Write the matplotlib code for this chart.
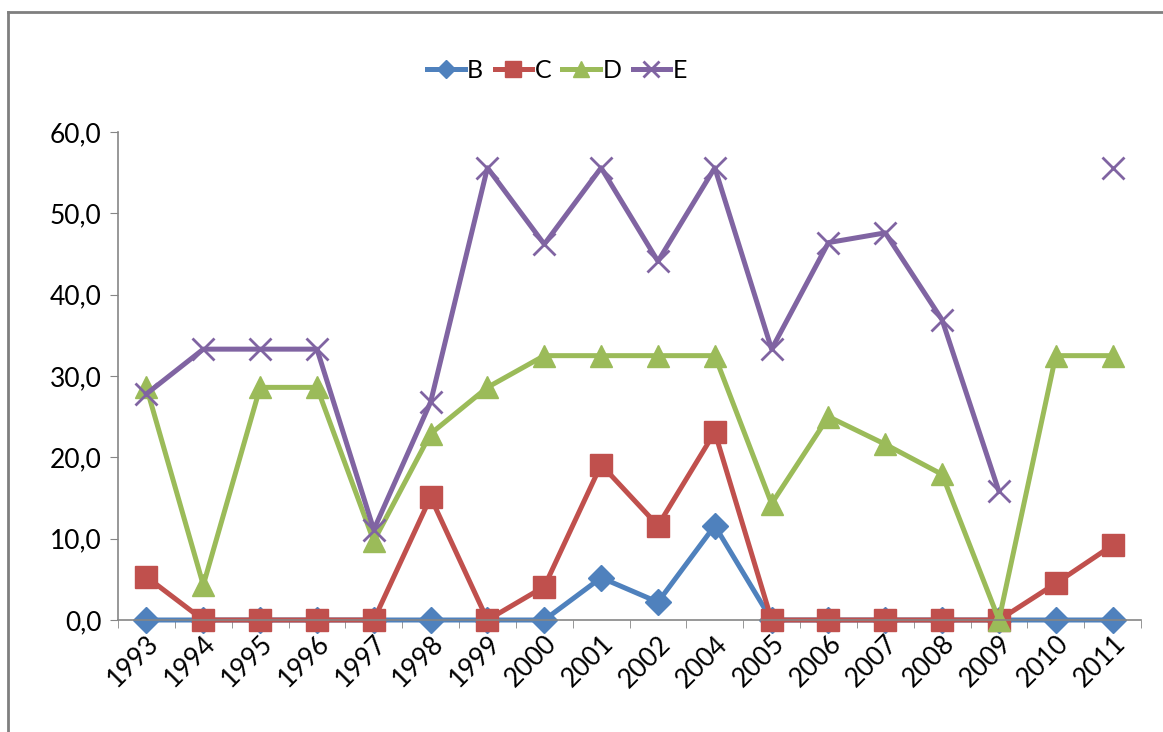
import numpy as np
import matplotlib
matplotlib.use("Agg")
import matplotlib.pyplot as plt
from matplotlib.lines import Line2D

plt.rcParams['font.family'] = ['Lato', 'DejaVu Sans']

# Dados (ano 2003 ausente no original)
anos = ["1993", "1994", "1995", "1996", "1997", "1998", "1999", "2000", "2001",
        "2002", "2004", "2005", "2006", "2007", "2008", "2009", "2010", "2011"]
serie_b = [0, 0, 0, 0, 0, 0, 0, 0, 5.2, 2.2, 11.6, 0, 0, 0, 0, 0, 0, 0]
serie_c = [5.3, 0, 0, 0, 0, 15.1, 0, 4.1, 19.1, 11.6, 23.1, 0, 0, 0, 0, 0, 4.5, 9.2]
serie_d = [28.6, 4.3, 28.6, 28.6, 9.7, 22.9, 28.6, 32.5, 32.5, 32.5, 32.5, 14.3,
           25.0, 21.6, 17.9, 0, 32.5, 32.5]
serie_e = [27.8, 33.3, 33.3, 33.3, 11.1, 26.8, 55.6, 46.2, 55.6, 44.1, 55.6, 33.3,
           46.4, 47.6, 36.9, 15.8, np.nan, 55.6]

series = [
    ("B", serie_b, "#4F81BD", "D", 13, None),
    ("C", serie_c, "#C0504D", "s", 16, None),
    ("D", serie_d, "#9BBB59", "^", 16, None),
    ("E", serie_e, "#8064A2", "x", 16, 2.0),
]

fig = plt.figure(figsize=(11.63, 7.32), dpi=100)
ax = fig.add_axes([0.1015, 0.153, 0.8796, 0.6667])

x = np.arange(len(anos))
handles = []
for nome, valores, cor, marcador, tam, mew in series:
    kw = dict(color=cor, linewidth=3.6, marker=marcador, markersize=tam,
              markerfacecolor=cor, markeredgecolor=cor)
    if mew:
        kw["markeredgewidth"] = mew
    ax.plot(x, valores, clip_on=False, **kw)
    handles.append(Line2D([], [], label=nome, **kw))

ax.set_xlim(-0.5, len(anos) - 0.5)
ax.set_ylim(0, 60)
ax.set_yticks(np.arange(0, 61, 10))
ax.set_yticklabels([f"{v:.1f}".replace(".", ",") for v in np.arange(0, 61, 10)],
                   fontsize=19)
ax.set_xticks(x)
ax.set_xticklabels(anos, rotation=45, ha="right", rotation_mode="anchor", fontsize=19)
ax.set_xticks(np.arange(-0.5, len(anos)), minor=True)
ax.tick_params(axis="x", which="major", length=0, pad=8)
ax.tick_params(axis="x", which="minor", length=6, color="#868686")
ax.tick_params(axis="y", length=6, color="#868686", pad=6)

for lado in ["top", "right"]:
    ax.spines[lado].set_visible(False)
for lado in ["left", "bottom"]:
    ax.spines[lado].set_color("#868686")
    ax.spines[lado].set_linewidth(1.2)

fig.legend(handles=handles, loc="center", bbox_to_anchor=(0.479, 0.904), ncol=4,
           frameon=False, fontsize=18, handlelength=1.5, handletextpad=0.1,
           columnspacing=0.45, markerscale=0.7)

# moldura cinza do gráfico
fig.add_artist(Line2D([8 / 1163, 1], [1 - 12 / 732, 1 - 12 / 732],
                      transform=fig.transFigure, color="#7f7f7f", linewidth=2))
fig.add_artist(Line2D([8 / 1163, 8 / 1163], [0, 1 - 12 / 732],
                      transform=fig.transFigure, color="#7f7f7f", linewidth=2))

fig.savefig("out.png", dpi=100)
